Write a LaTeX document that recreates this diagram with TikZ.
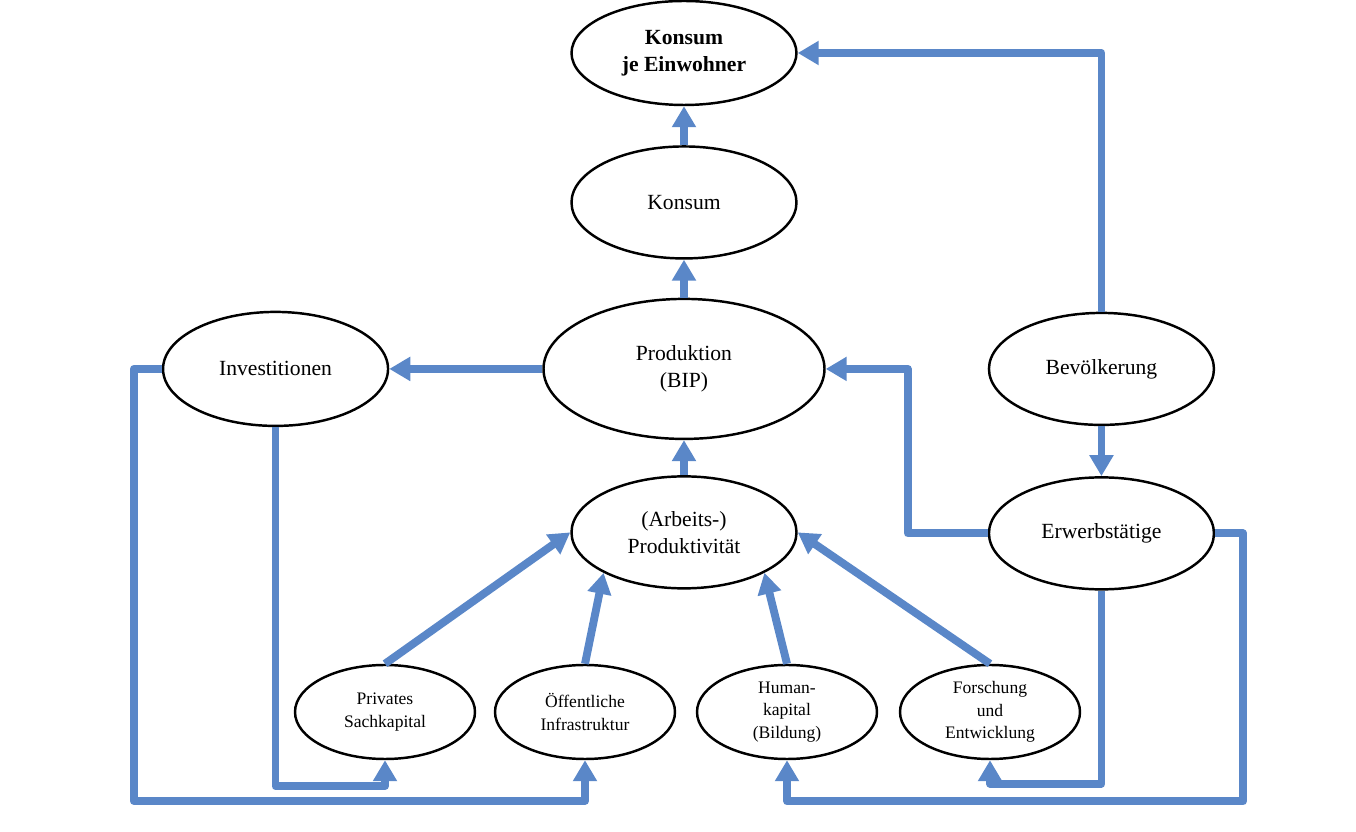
\documentclass[tikz,border=0pt]{standalone}
\usepackage{fontspec}
\setmainfont{Liberation Serif}
\usepackage{xcolor}
\definecolor{FlowBlue}{RGB}{90,135,200}
\usepackage{tikz}
\usetikzlibrary{arrows.meta, positioning, shapes.geometric}

\begin{document}
\begin{tikzpicture}[
  big/.style={ellipse, draw=black, line width=1.4pt, minimum width=4.5cm,
              minimum height=2.24cm, align=center, inner sep=0pt,
              font=\fontsize{12.3}{15.3}\selectfont},
  small/.style={ellipse, draw=black, line width=1.4pt, minimum width=3.6cm,
                minimum height=1.88cm, align=center, inner sep=0pt,
                font=\fontsize{10}{12.8}\selectfont},
  arr/.style={-{Triangle[length=0.42cm, width=0.46cm]}, color=FlowBlue,
              line width=4.5pt, line join=round},
]
  \useasboundingbox (0,0) rectangle (27.12,-16.64);

  % middle column
  \node[big, minimum height=2.08cm,
        font=\fontsize{12.3}{15.3}\selectfont\bfseries] (kje) at (13.68,-1.06)
    {Konsum\\je Einwohner};
  \node[big, below=0.78cm of kje] (kon) {Konsum};
  \node[big, minimum width=5.62cm, minimum height=2.8cm,
        below=0.76cm of kon] (prod) {Produktion\\(BIP)};
  \node[big, below=0.70cm of prod] (prodk) {(Arbeits-)\\Produktivit\"at};

  % left and right
  \node[big, minimum height=2.28cm, left=3.06cm of prod] (inv) {Investitionen};
  \node[big, right=3.24cm of prod] (bev) {Bev\"olkerung};
  \node[big, below=1.0cm of bev] (erw) {Erwerbst\"atige};

  % bottom row
  \node[small] (ps) at (7.70,-14.24) {Privates\\Sachkapital};
  \node[small] (oi) at (11.70,-14.24) {\"Offentliche\\Infrastruktur};
  \node[small] (hk) at (15.74,-14.24) {Human-\\kapital\\(Bildung)};
  \node[small] (fe) at (19.80,-14.24) {Forschung\\und\\Entwicklung};

  \draw[arr] (kon) -- (kje);
  \draw[arr] (prod) -- (kon);
  \draw[arr] (prodk) -- (prod);
  \draw[arr] (prod) -- (inv);
  \draw[arr] (bev) -- (erw);
  \draw[arr] (bev.north) |- (kje.east);
  \draw[arr] (erw.west) -- ++(-1.6,0) |- (prod.east);

  \draw[arr] (ps.north) -- (prodk.west);
  \draw[arr] (oi.north) -- (prodk.south west);
  \draw[arr] (hk.north) -- (prodk.south east);
  \draw[arr] (fe.north) -- (prodk.east);

  % feedback loops
  \draw[arr] (inv.south) -- ++(0,-7.18) -| (ps.south);
  \draw[arr] (inv.west) -- ++(-0.56,0) -- ++(0,-8.64) -| (oi.south);
  \draw[arr] (erw.south) -- ++(0,-3.86) -| (fe.south);
  \draw[arr] (erw.east) -- ++(0.56,0) -- ++(0,-5.36) -| (hk.south);
\end{tikzpicture}
\end{document}
